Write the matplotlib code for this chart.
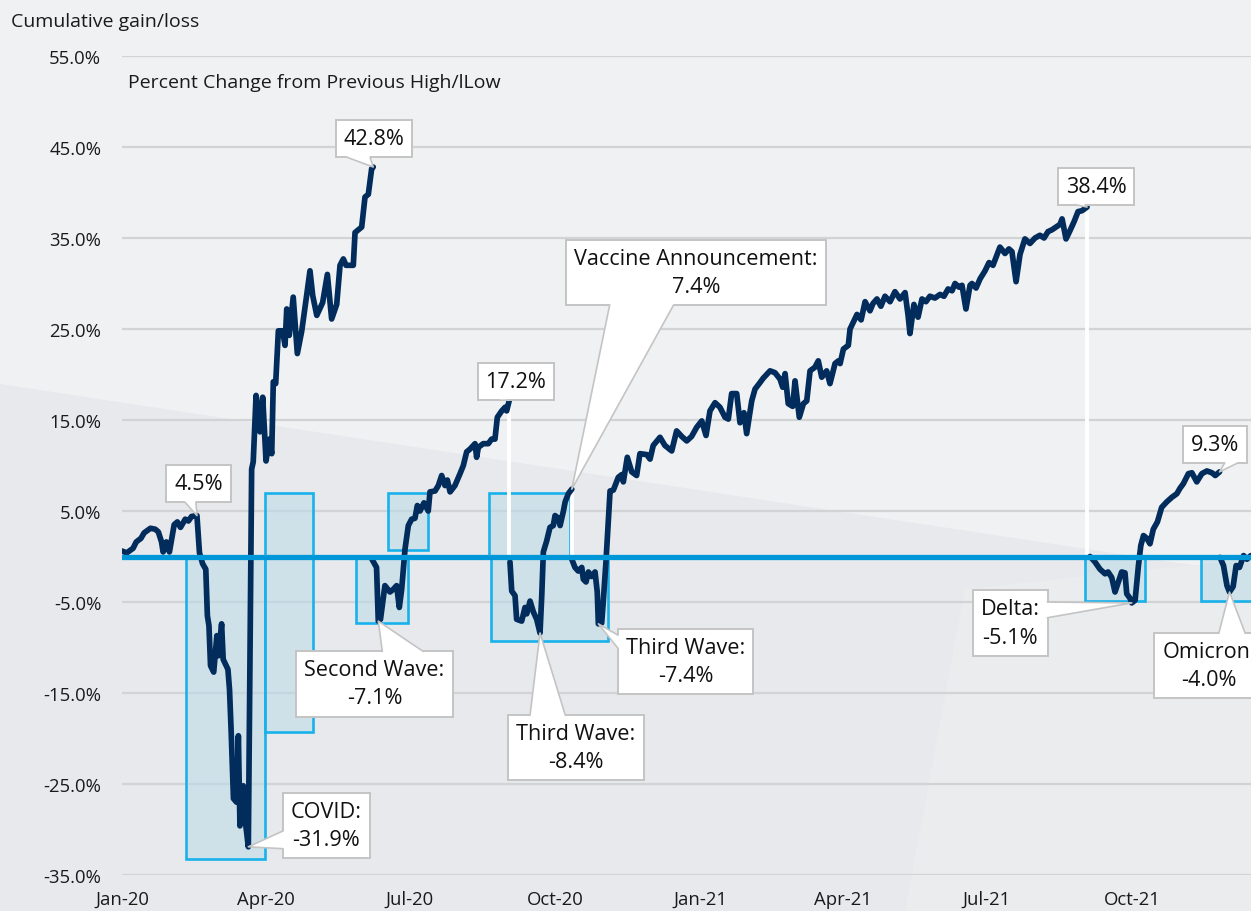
"""
Cumulative gain/loss, percent change from previous high/low -> out.png
"""
import numpy as np
import matplotlib
matplotlib.use("Agg")
import matplotlib.pyplot as plt
import matplotlib.dates as mdates
from matplotlib.lines import Line2D
from matplotlib.patches import Polygon, Rectangle
from matplotlib.transforms import IdentityTransform

plt.rcParams["font.family"] = ["Open Sans", "DejaVu Sans"]

# each run: days since 1 Jan 2020 and % change from the previous high/low
run1_days = [0, 3, 7, 9, 12, 14, 18, 21, 23, 25, 26, 28, 30, 33, 35, 37, 40, 42, 44, 47.4,
             49, 51, 53, 54, 55, 56, 58, 60, 61, 63, 64, 67, 68, 69, 70.5, 72.5, 73.6, 74.6, 76.7,
             77.8, 79.9, 82, 83, 84.8, 87.3, 89, 91.1, 93.2, 94.7, 95.7, 97.2, 98.9, 101.6, 103.1,
             104.2, 105.8, 108.3, 110.9, 113.7, 116.8, 118.9, 120.6, 123.2, 126.9, 129.9, 132.6,
             135.8, 137.9, 140, 141.7, 146.3, 147.4, 151.6, 153.7, 155.8, 157.9, 158.9]
run1_vals = [0.6, 0.4, 0.9, 1.6, 2.0, 2.6, 3.1, 3.0, 2.7, 1.6, 0.5, 1.6, 0.5, 3.5, 3.8, 3.2, 4.1, 3.9, 4.4, 4.5,
             0.4, -0.8, -1.4, -6.5, -7.6, -12.0, -12.7, -8.7, -10.9, -7.4, -11.3, -12.4, -14.6, -19.0, -26.6,
             -27.0, -19.7, -29.6, -25.2, -28.8, -31.9, 9.6, 10.4, 17.7, 13.7, 17.5, 10.5, 12.9, 11.3, 19.2,
             19.0, 24.8, 24.8, 23.2, 27.2, 24.3, 28.5, 22.3, 24.8, 28.7, 31.4, 28.7, 26.5, 27.9, 31.0, 26.1,
             27.7, 32.0, 32.7, 32.0, 32.0, 35.6, 36.2, 39.5, 39.8, 42.6, 42.8]

run2_days = [158.1, 161, 162.1, 163.5, 166.3, 169.5, 171.6, 173.7, 175.4, 176.9, 179, 181.1, 183.2,
             185.3, 186.8, 188.5, 191, 193.7, 194.8, 198, 200.1, 202.2, 204.3, 205.8, 207.5, 210.6,
             213.8, 215.9, 218, 220.1, 223.3, 224.3, 225.4, 228.5, 231.7, 233.8, 235.9, 237.4, 240.2,
             242.3, 243.3, 245]
run2_vals = [-0.3, -1.2, -7.1, -6.9, -3.2, -3.9, -3.6, -3.2, -5.6, -3.6, 0.8, 3.4, 4.1,
             4.2, 5.6, 5.0, 5.9, 5.0, 7.1, 7.2, 7.8, 8.9, 7.8, 8.4, 7.1, 7.8,
             9.1, 10.0, 11.5, 11.8, 12.4, 10.9, 12.0, 12.4, 12.4, 12.9, 12.9, 15.3, 16.0,
             16.4, 16.0, 17.2]

run3_days = [245.4, 246.5, 248.6, 249.6, 252.8, 254.9, 256, 258.1, 260.2, 262.3, 264.4, 265.5,
             266.5, 268.6, 270.7, 272.8, 273.9, 276, 277.1, 279.2, 280.3, 282.3, 284.5]
run3_vals = [-0.6, -3.8, -4.3, -6.9, -7.1, -5.6, -6.3, -4.9, -6.1, -6.9, -8.4, -4.3,
             0.5, 1.7, 3.2, 3.4, 4.5, 4.2, 3.4, 5.0, 6.0, 6.9, 7.4]

run4_days = [284.5, 286.5, 288.6, 290.8, 291.8, 293.5, 295, 297.1, 299.2, 300.6, 301.3, 303.4, 304.4,
             306.1, 307.6, 308.7, 310.8, 313.9, 316.1, 317.1, 319.6, 322.4, 325.5, 327.6, 331.9,
             334, 336, 340.3, 343.4, 347.7, 350.8, 354, 357.2, 360.3, 363.5, 366.7, 369.4, 371.9,
             375.1, 378.2, 381.4, 383.5, 385.6, 388.8, 390.9, 393.4, 395.1, 398.3, 400.4, 403.5,
             405.6, 409.9, 413, 416.2, 417.9, 419.4, 421.4, 424.2, 425.7, 428.4, 431, 433.1, 435.2,
             438.3, 440.4, 442.6, 445.7, 447.8, 451, 453.1, 454.2, 456.3, 459.4, 460.5, 464.9,
             467.5, 470, 473.1, 475, 477.5, 480, 482.6, 485.8, 488.9, 492.1, 495.3, 497.2, 498.4,
             500.9, 503.5, 506, 508.5, 511, 514.2, 517.4, 519.9, 522.5, 525, 526.9, 529.4, 531.3,
             533.8, 536.4, 537.6, 540.2, 542.7, 545.9, 548.4, 550.9, 553.5, 555.3, 558.5, 561,
             562.9, 565.5, 568, 571.1, 574.3, 577.5, 580.6, 583.2, 585.7, 588.2, 590.8, 593.3,
             594.6, 597.1, 599.6, 602.2, 604.7, 607.2, 610.4]
run4_vals = [-0.3, -1.2, -1.6, -1.2, -2.5, -2.8, -1.7, -2.2, -1.7, -3.9, -7.4, -7.3, -5.0,
             -0.6, 3.8, 7.2, 7.3, 8.7, 9.0, 8.2, 10.9, 9.3, 8.9, 11.3, 11.2,
             10.7, 12.2, 13.1, 12.2, 11.6, 13.8, 13.2, 12.7, 13.2, 14.2, 14.9, 13.3, 16.0,
             16.9, 16.4, 15.3, 15.1, 17.9, 17.9, 14.7, 15.8, 13.5, 17.1, 18.4, 19.1,
             19.6, 20.4, 20.2, 19.5, 18.6, 20.1, 16.8, 16.5, 19.3, 15.3, 16.8, 17.1, 20.4,
             20.8, 21.5, 19.7, 20.4, 19.0, 21.2, 21.5, 21.2, 22.8, 23.2, 25.0, 26.6,
             26.0, 28.0, 27.0, 27.8, 28.3, 27.5, 28.6, 28.0, 29.1, 28.3, 29.0, 26.5, 24.5,
             27.7, 26.3, 28.3, 28.0, 28.6, 28.4, 28.8, 28.6, 29.4, 29.2, 30.0, 29.6, 29.8,
             27.2, 29.8, 30.0, 29.5, 30.5, 31.4, 32.3, 32.0, 33.2, 34.0, 33.3, 33.8,
             33.5, 30.2, 33.2, 34.9, 34.4, 35.0, 35.3, 35.0, 35.7, 35.9, 36.2, 36.5,
             37.1, 34.9, 35.8, 36.8, 37.9, 38.0, 38.4]

run5_days = [612.3, 615.4, 618.6, 621.8, 623.7, 626, 628.1, 630.2, 632.3, 634.4, 635.5, 637.6, 638.7,
             640.8, 642.9, 644.4, 646.1, 648.2, 650.2, 652.3, 654.9, 657.6, 660.8, 664, 667.2,
             669.2, 671.3, 674.5, 676.7, 679.8, 683, 686.2, 689.4, 691.5, 694.2]
run5_vals = [0.0, -0.6, -1.4, -1.9, -1.7, -2.3, -3.9, -2.8, -1.7, -1.8, -4.1, -4.6, -5.1,
             -4.8, -1.0, 1.2, 2.3, 2.0, 1.4, 3.0, 3.8, 5.4, 6.0, 6.5, 6.9,
             7.5, 8.0, 9.1, 9.2, 8.2, 9.1, 9.4, 9.2, 8.9, 9.3]

run6_days = [694.5, 696.7, 698.9, 700.5, 702.8, 704.7, 706.8, 709.4, 711.5, 714, 717]
run6_vals = [-0.1, -1.0, -3.2, -3.9, -3.3, -1.0, -1.2, 0.1, -0.3, 0.1, -0.5]

# highlighted periods: start day, end day, top %, bottom %
box_start = [40.5, 90.4, 148, 168.2, 232.1, 233.4, 609.1, 682.5]
box_end = [90.4, 120.8, 180.9, 193.5, 283.4, 307.4, 647.1, 760]
box_top = [0, 7.0, 0, 7.0, 7.0, 0, 0, 0]
box_bottom = [-33.2, -19.3, -7.3, 0.7, 0, -9.3, -4.9, -4.9]

# peaks joined back to the zero line (day, %)
drop_days = [245, 284.5, 610.4]
drop_vals = [17.2, 7.4, 38.4]

# callouts
label_texts = ["42.8%", "4.5%", "17.2%", "38.4%", "9.3%", "Vaccine Announcement:\n7.4%",
               "Second Wave:\n-7.1%", "COVID:\n-31.9%", "Third Wave:\n-8.4%", "Third Wave:\n-7.4%",
               "Delta:\n-5.1%", "Omicron:\n-4.0%"]
label_days = [158.9, 47.4, 245, 610.4, 694.2, 284.5, 162.1, 79.9, 264.4, 301.3, 638.7, 700.5]
label_vals = [42.8, 4.5, 17.2, 38.4, 9.3, 7.4, -7.1, -31.9, -8.4, -7.4, -5.1, -3.9]

# layout of the callout boxes and of their pointers (side of the box, span along that side)
text_days = [159.4, 48.4, 249.2, 616.1, 691.3, 363.1, 159.7, 129.2, 287.2, 356.4, 561.7, 687.5]
text_vals = [45.9, 8.0, 19.2, 40.7, 12.3, 31.2, -14.0, -29.6, -21.0, -11.5, -7.3, -12.0]
ptr_side = ["bottom", "bottom", "bottom", "bottom", "bottom", "bottom", "top", "left", "top",
            "left", "right", "top"]
ptr_span = [(0.15, 0.45), (0.29, 0.46), (0.3, 0.4), (0.23, 0.36), (0.65, 0.85), (0.167, 0.413),
            (0.55, 0.81), (0.15, 0.42), (0.16, 0.42), (0.7, 0.9), (0.58, 0.82), (0.59, 0.83)]

W, H = 1251, 912
base = mdates.date2num(np.datetime64("2020-01-01"))
GREY = "#c4c4c4"

fig = plt.figure(figsize=(W / 100, H / 100), dpi=100)
fig.patch.set_facecolor("#f0f1f3")
fig.patches.append(Polygon([(0, 1 - 385 / H), (1, 1 - 575 / H), (1, 0), (0, 0)],
                           transform=fig.transFigure, fc="#e7e9ec", ec="none", zorder=-2))
fig.patches.append(Polygon([(965 / W, 1 - 590 / H), (1, 1 - 560 / H), (1, 0), (905 / W, 0)],
                           transform=fig.transFigure, fc="#eaecee", ec="none", zorder=-1))

ax = fig.add_axes([122 / W, 36 / H, 1 - 122 / W, (876 - 57) / H])
ax.set_facecolor("none")
for s in ax.spines.values():
    s.set_visible(False)

# boxes
for d0, d1, top, bot in zip(box_start, box_end, box_top, box_bottom):
    ax.add_patch(Rectangle((base + d0, bot), d1 - d0, top - bot, fc=(0.73, 0.86, 0.91, 0.55),
                           ec="#18b1ea", lw=1.9, zorder=2))

for d, v in zip(drop_days, drop_vals):
    ax.plot([base + d, base + d], [0, v], color="white", lw=2.8, zorder=3)

runs = [(run1_days, run1_vals), (run2_days, run2_vals), (run3_days, run3_vals),
        (run4_days, run4_vals), (run5_days, run5_vals), (run6_days, run6_vals)]
for d, v in runs:
    ax.plot(base + np.array(d), v, color="#012c5b", lw=4.1, solid_joinstyle="round",
            solid_capstyle="round", zorder=4)

ax.axhline(0, color="#0097d8", lw=3.8, zorder=5)

ax.set_ylim(-35, 55)
ax.set_yticks(np.arange(-35, 56, 10))
ax.set_yticklabels([f"{t:.1f}%" for t in np.arange(-35, 56, 10)])
ax.set_xlim(base, base + 714.1)
ax.xaxis_date()
ax.xaxis.set_major_locator(mdates.MonthLocator(bymonth=(1, 4, 7, 10)))
ax.xaxis.set_major_formatter(mdates.DateFormatter("%b-%y"))
ax.tick_params(axis="y", length=0, pad=15, labelsize=13.3, labelcolor="#1a1a1a")
ax.tick_params(axis="x", length=0, pad=11, labelsize=13.3, labelcolor="#1a1a1a")
ax.yaxis.grid(True, color="#d2d3d5", lw=1.6, zorder=1)
ax.set_axisbelow(True)

labels = []
for txt, td, tv in zip(label_texts, text_days, text_vals):
    labels.append(ax.text(base + td, tv, txt, ha="center", va="center", fontsize=15.6,
                          linespacing=1.45, color="#111111", zorder=7,
                          bbox=dict(boxstyle="square,pad=0.37", fc="white", ec=GREY, lw=1.4)))

fig.text(11 / W, 1 - 22 / H, "Cumulative gain/loss", fontsize=14, color="#1a1a1a",
         ha="left", va="center")
fig.text(128 / W, 1 - 83 / H, "Percent Change from Previous High/lLow", fontsize=14,
         color="#1a1a1a", ha="left", va="center")

# callout pointers: a white wedge from one side of the box to the point
fig.canvas.draw()
pix = IdentityTransform()
for t, side, (f0, f1), d, v in zip(labels, ptr_side, ptr_span, label_days, label_vals):
    bb = t.get_bbox_patch().get_window_extent()
    tip = ax.transData.transform((base + d, v))
    if side in ("bottom", "top"):
        y = bb.y0 if side == "bottom" else bb.y1
        dy = 2.5 if side == "bottom" else -2.5
        p0, p1 = (bb.x0 + f0 * bb.width, y), (bb.x0 + f1 * bb.width, y)
        q0, q1 = (p0[0], y + dy), (p1[0], y + dy)
    else:
        x = bb.x0 if side == "left" else bb.x1
        dx = 2.5 if side == "left" else -2.5
        p0, p1 = (x, bb.y0 + f0 * bb.height), (x, bb.y0 + f1 * bb.height)
        q0, q1 = (x + dx, p0[1]), (x + dx, p1[1])
    fig.add_artist(Polygon([q0, p0, tip, p1, q1], closed=True, transform=pix,
                           fc="white", ec="none", zorder=8))
    fig.add_artist(Line2D([p0[0], tip[0], p1[0]], [p0[1], tip[1], p1[1]], transform=pix,
                          color=GREY, lw=1.2, zorder=9))

fig.savefig("out.png", dpi=100, facecolor=fig.get_facecolor())
